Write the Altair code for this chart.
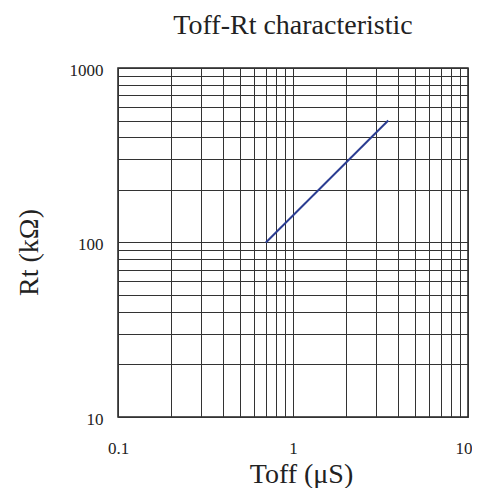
import altair as alt
import pandas as pd

toff = [0.7, 3.5]
rt = [100, 500]

x_grid = [0.1, 0.2, 0.3, 0.4, 0.5, 0.6, 0.7, 0.8, 0.9,
          1, 2, 3, 4, 5, 6, 7, 8, 9, 10]
y_grid = [10, 20, 30, 40, 50, 60, 70, 80, 90,
          100, 200, 300, 400, 500, 600, 700, 800, 900, 1000]
x_labels = [0.1, 1, 10]
y_labels = [10, 100, 1000]

df = pd.DataFrame({"Toff": toff, "Rt": rt})
FONT = "Liberation Serif"

def label_expr(vals):
    parts = " || ".join(f"abs(datum.value - {v}) < {v}*1e-6" for v in vals)
    return f"({parts}) ? datum.label : ''"

last_x = "datum.value > 9.5"

chart = alt.Chart(df).mark_line(color="#2B3D92", strokeWidth=2).encode(
    x=alt.X("Toff:Q",
            scale=alt.Scale(type="log", domain=[0.1, 10], nice=False),
            axis=alt.Axis(values=x_grid, format="~g", labelExpr=label_expr(x_labels),
                          grid=True, gridColor="#333333", gridWidth=1, gridOpacity=1,
                          ticks=False, domain=False, labelPadding=23,
                          labelFont=FONT, labelFontSize=17, labelColor="#222",
                          labelFlush=False,
                          labelAlign=alt.condition(last_x, alt.value("right"), alt.value("center")),
                          labelOffset=alt.condition(last_x, alt.value(4), alt.value(0)),
                          title="Toff (μS)", titleFont=FONT, titleFontSize=28,
                          titleFontWeight="normal", titleColor="#222",
                          titleX=183, titleY=65, titleBaseline="alphabetic")),
    y=alt.Y("Rt:Q",
            scale=alt.Scale(type="log", domain=[10, 1000], nice=False),
            axis=alt.Axis(values=y_grid, format="~g", labelExpr=label_expr(y_labels),
                          grid=True, gridColor="#333333", gridWidth=1, gridOpacity=1,
                          ticks=False, domain=False, labelPadding=15,
                          labelFont=FONT, labelFontSize=17, labelColor="#222",
                          labelFlush=False, labelOffset=2,
                          title="Rt (kΩ)", titleFont=FONT, titleFontSize=28,
                          titleFontWeight="normal", titleColor="#222",
                          titleX=-89, titleY=184, titleAngle=-90,
                          titleBaseline="middle", titleAlign="center")),
).properties(
    width=350, height=349,
    title=alt.TitleParams("Toff-Rt characteristic", font=FONT, fontSize=28,
                          fontWeight="normal", color="#222", anchor="middle",
                          offset=21),
    autosize=alt.AutoSizeParams(type="none"),
    padding={"left": 110, "top": 60, "right": 4, "bottom": 71},
).configure_view(stroke="#222", strokeWidth=1.5)

chart.save("out.html", embed_options={"renderer": "svg", "actions": False})
